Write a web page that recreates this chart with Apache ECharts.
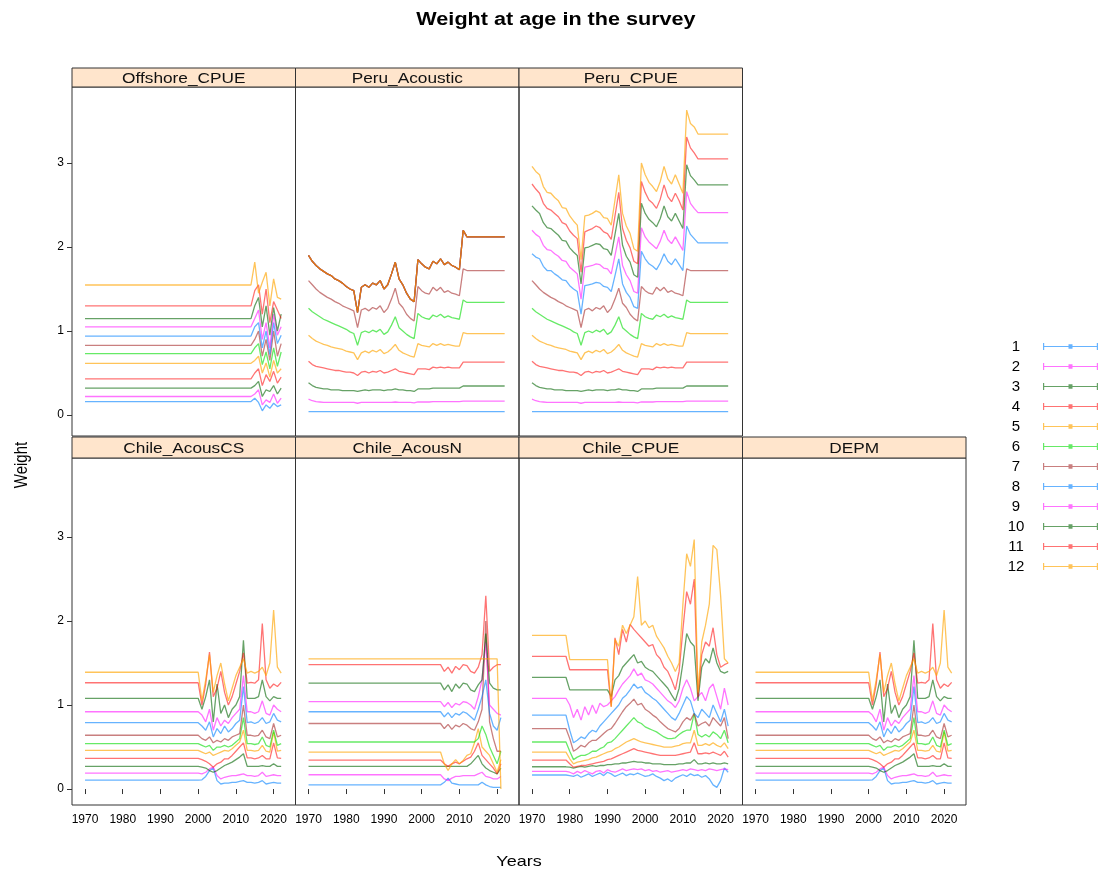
<!DOCTYPE html>
<html>
<head>
<meta charset="utf-8">
<script src="https://cdn.jsdelivr.net/npm/echarts@6/dist/echarts.min.js"></script>
<style>
html,body{margin:0;padding:0;background:#fff;}
#chart{width:1108px;height:878px;}
</style>
</head>
<body>
<div id="chart"></div>
<script>
// ---------- categories / ticks ----------
const panelNames = ['Offshore_CPUE','Peru_Acoustic','Peru_CPUE','Chile_AcousCS','Chile_AcousN','Chile_CPUE','DEPM'];
const ageNames = ['1','2','3','4','5','6','7','8','9','10','11','12'];
const xTickValues = [1970,1980,1990,2000,2010,2020];
const yTickValues = [0,1,2,3];

// ---------- years ----------
const annualYears = [1970,1971,1972,1973,1974,1975,1976,1977,1978,1979,
  1980,1981,1982,1983,1984,1985,1986,1987,1988,1989,
  1990,1991,1992,1993,1994,1995,1996,1997,1998,1999,
  2000,2001,2002,2003,2004,2005,2006,2007,2008,2009,
  2010,2011,2012,2013,2014,2015,2016,2017,2018,2019,
  2020,2021,2022];
const offshoreYears = [1970,2014,2015,2016,2017,2018,2019,2020,2021,2022];
const acousCSYears = [1970,2000,2001,2002,2003,2004,2005,2006,2007,2008,2009,2010,2011,2012,2013,2014,2015,2016,2017,2018,2019,2020,2021,2022];
const acousNYears = [1970,2005,2006,2007,2008,2009,2010,2011,2012,2013,2014,2015,2016,2017,2018,2019,2020,2021];

// ---------- Offshore_CPUE (ages 1..12) ----------
const offshoreCPUE = [
  [0.16,0.16,0.20,0.15,0.05,0.12,0.08,0.14,0.10,0.12],
  [0.22,0.22,0.25,0.30,0.12,0.18,0.15,0.25,0.14,0.20],
  [0.32,0.32,0.35,0.40,0.22,0.30,0.28,0.35,0.25,0.32],
  [0.43,0.43,0.50,0.55,0.35,0.48,0.40,0.52,0.38,0.45],
  [0.615,0.615,0.65,0.70,0.50,0.62,0.45,0.65,0.50,0.55],
  [0.73,0.73,0.80,0.85,0.60,0.75,0.55,0.80,0.58,0.75],
  [0.83,0.83,0.90,1.00,0.70,0.90,0.65,1.00,0.70,0.85],
  [0.94,0.94,1.05,1.10,0.80,1.00,0.72,1.10,0.85,0.95],
  [1.05,1.05,1.15,1.25,0.90,1.10,0.80,1.20,0.95,1.05],
  [1.147,1.147,1.30,1.40,1.05,1.30,0.95,1.28,1.00,1.20],
  [1.30,1.30,1.48,1.55,1.20,1.50,1.10,1.35,1.25,1.15],
  [1.548,1.548,1.82,1.45,1.58,1.70,1.30,1.62,1.40,1.38]
];

// ---------- Peru ages 1..7 (same in Peru_Acoustic and Peru_CPUE) ----------
const peruAge1 = [0.04,0.04,0.04,0.04,0.04,0.04,0.04,0.04,0.04,0.04,
  0.04,0.04,0.04,0.04,0.04,0.04,0.04,0.04,0.04,0.04,
  0.04,0.04,0.04,0.04,0.04,0.04,0.04,0.04,0.04,0.04,
  0.04,0.04,0.04,0.04,0.04,0.04,0.04,0.04,0.04,0.04,
  0.04,0.04,0.04,0.04,0.04,0.04,0.04,0.04,0.04,0.04,
  0.04,0.04,0.04];
const peruAge2 = [0.19,0.17,0.16,0.155,0.15,0.15,0.15,0.15,0.15,0.15,
  0.15,0.15,0.15,0.14,0.15,0.15,0.15,0.15,0.15,0.15,
  0.15,0.15,0.15,0.155,0.15,0.15,0.15,0.15,0.145,0.155,
  0.155,0.155,0.155,0.16,0.16,0.16,0.16,0.16,0.16,0.16,
  0.16,0.165,0.165,0.165,0.165,0.165,0.165,0.165,0.165,0.165,
  0.165,0.165,0.165];
const peruAge3 = [0.385,0.35,0.33,0.32,0.31,0.31,0.30,0.30,0.30,0.29,
  0.29,0.29,0.29,0.28,0.29,0.30,0.29,0.30,0.30,0.30,
  0.29,0.30,0.30,0.31,0.30,0.30,0.29,0.29,0.28,0.31,
  0.31,0.31,0.31,0.32,0.32,0.32,0.32,0.32,0.32,0.32,
  0.32,0.345,0.345,0.345,0.345,0.345,0.345,0.345,0.345,0.345,
  0.345,0.345,0.345];
const peruAge4 = [0.64,0.60,0.58,0.57,0.56,0.55,0.54,0.53,0.53,0.52,
  0.51,0.51,0.50,0.47,0.51,0.52,0.50,0.52,0.51,0.53,
  0.50,0.51,0.53,0.55,0.52,0.51,0.50,0.49,0.48,0.55,
  0.55,0.55,0.54,0.57,0.56,0.57,0.56,0.57,0.56,0.56,
  0.56,0.63,0.63,0.63,0.63,0.63,0.63,0.63,0.63,0.63,
  0.63,0.63,0.63];
const peruAge5 = [0.95,0.91,0.88,0.86,0.84,0.83,0.81,0.80,0.79,0.78,
  0.76,0.75,0.74,0.66,0.74,0.76,0.74,0.77,0.75,0.78,
  0.73,0.75,0.79,0.84,0.77,0.74,0.72,0.70,0.69,0.85,
  0.83,0.82,0.81,0.85,0.83,0.85,0.83,0.84,0.83,0.82,
  0.82,0.98,0.97,0.97,0.97,0.97,0.97,0.97,0.97,0.97,
  0.97,0.97,0.97];
const peruAge6 = [1.27,1.23,1.20,1.17,1.14,1.12,1.10,1.08,1.06,1.04,
  1.02,0.99,0.97,0.83,0.98,1.00,0.98,1.01,0.99,1.02,
  0.96,0.99,1.07,1.17,1.04,1.00,0.96,0.93,0.91,1.21,
  1.17,1.15,1.14,1.19,1.17,1.20,1.16,1.18,1.16,1.15,
  1.14,1.37,1.34,1.34,1.34,1.34,1.34,1.34,1.34,1.34,
  1.34,1.34,1.34];
const peruAge7 = [1.60,1.55,1.50,1.46,1.43,1.40,1.38,1.35,1.33,1.30,
  1.28,1.26,1.24,1.04,1.25,1.27,1.24,1.28,1.26,1.30,
  1.22,1.27,1.38,1.51,1.33,1.28,1.20,1.15,1.12,1.53,
  1.48,1.45,1.44,1.52,1.48,1.52,1.46,1.48,1.45,1.44,
  1.42,1.74,1.72,1.72,1.72,1.72,1.72,1.72,1.72,1.72,
  1.72,1.72,1.72];
// Peru_Acoustic ages 8..12 lie on one line
const peruAcousticUpper = [1.90,1.83,1.78,1.74,1.71,1.68,1.66,1.62,1.60,1.57,
  1.53,1.50,1.48,1.22,1.52,1.55,1.52,1.57,1.55,1.60,
  1.50,1.55,1.68,1.82,1.62,1.55,1.45,1.38,1.35,1.85,
  1.80,1.76,1.74,1.83,1.80,1.86,1.79,1.82,1.78,1.76,
  1.73,2.20,2.12,2.12,2.12,2.12,2.12,2.12,2.12,2.12,
  2.12,2.12,2.12];
// Peru_CPUE ages 8..12
const peruCPUEAge8 = [1.92,1.88,1.86,1.77,1.72,1.72,1.68,1.65,1.61,1.60,
  1.54,1.50,1.47,1.20,1.54,1.55,1.56,1.58,1.57,1.53,
  1.52,1.47,1.66,1.86,1.56,1.46,1.40,1.29,1.27,1.95,
  1.86,1.80,1.77,1.73,1.81,1.92,1.83,1.79,1.86,1.79,
  1.72,2.25,2.15,2.10,2.05,2.05,2.05,2.05,2.05,2.05,
  2.05,2.05,2.05];
const peruCPUEAge9 = [2.20,2.15,2.12,2.02,1.97,1.96,1.92,1.89,1.84,1.83,
  1.76,1.72,1.68,1.38,1.76,1.77,1.78,1.80,1.79,1.75,
  1.74,1.68,1.90,2.12,1.78,1.67,1.60,1.47,1.45,2.23,
  2.12,2.06,2.02,1.98,2.07,2.20,2.09,2.04,2.12,2.04,
  1.96,2.66,2.52,2.46,2.41,2.41,2.41,2.41,2.41,2.41,
  2.41,2.41,2.41];
const peruCPUEAge10 = [2.49,2.44,2.40,2.29,2.23,2.22,2.18,2.14,2.08,2.07,
  1.99,1.94,1.90,1.56,1.99,2.00,2.02,2.04,2.03,1.98,
  1.97,1.90,2.15,2.40,2.02,1.89,1.82,1.67,1.64,2.52,
  2.40,2.33,2.29,2.24,2.34,2.49,2.36,2.31,2.40,2.31,
  2.22,2.98,2.85,2.80,2.74,2.74,2.74,2.74,2.74,2.74,
  2.74,2.74,2.74];
const peruCPUEAge11 = [2.75,2.69,2.64,2.52,2.46,2.44,2.40,2.36,2.29,2.27,
  2.19,2.14,2.10,1.70,2.18,2.20,2.22,2.25,2.23,2.18,
  2.16,2.09,2.37,2.65,2.22,2.08,1.99,1.83,1.80,2.78,
  2.65,2.56,2.52,2.46,2.57,2.74,2.60,2.54,2.64,2.55,
  2.44,3.31,3.18,3.12,3.05,3.05,3.05,3.05,3.05,3.05,
  3.05,3.05,3.05];
const peruCPUEAge12 = [2.96,2.90,2.86,2.72,2.65,2.64,2.59,2.55,2.47,2.46,
  2.37,2.31,2.26,1.85,2.37,2.38,2.40,2.43,2.41,2.35,
  2.34,2.26,2.56,2.86,2.40,2.25,2.16,1.98,1.95,3.00,
  2.86,2.77,2.72,2.66,2.78,2.96,2.81,2.75,2.86,2.75,
  2.64,3.63,3.47,3.43,3.345,3.345,3.345,3.345,3.345,3.345,
  3.345,3.345,3.345];
const peruAcoustic = [peruAge1,peruAge2,peruAge3,peruAge4,peruAge5,peruAge6,peruAge7,
  peruAcousticUpper,peruAcousticUpper,peruAcousticUpper,peruAcousticUpper,peruAcousticUpper];
const peruCPUE = [peruAge1,peruAge2,peruAge3,peruAge4,peruAge5,peruAge6,peruAge7,
  peruCPUEAge8,peruCPUEAge9,peruCPUEAge10,peruCPUEAge11,peruCPUEAge12];

// ---------- Chile_AcousCS (ages 1..12) ----------
const chileAcousCS = [
  [0.107,0.107,0.11,0.15,0.22,0.25,0.10,0.06,0.07,0.07,0.08,0.08,0.09,0.10,0.08,0.08,0.07,0.08,0.10,0.06,0.07,0.08,0.07,0.07],
  [0.19,0.19,0.18,0.20,0.24,0.26,0.16,0.12,0.14,0.15,0.16,0.16,0.17,0.18,0.16,0.16,0.15,0.16,0.20,0.15,0.16,0.17,0.16,0.16],
  [0.27,0.27,0.26,0.25,0.22,0.20,0.22,0.25,0.28,0.30,0.32,0.35,0.38,0.42,0.27,0.27,0.27,0.27,0.28,0.27,0.27,0.30,0.27,0.27],
  [0.365,0.365,0.35,0.33,0.30,0.26,0.30,0.32,0.36,0.36,0.40,0.45,0.50,0.55,0.37,0.37,0.36,0.37,0.40,0.36,0.36,0.55,0.37,0.365],
  [0.46,0.46,0.44,0.42,0.44,0.40,0.42,0.44,0.46,0.45,0.48,0.52,0.56,0.70,0.46,0.46,0.45,0.46,0.52,0.45,0.44,0.68,0.45,0.46],
  [0.54,0.54,0.52,0.50,0.52,0.46,0.50,0.50,0.52,0.50,0.52,0.56,0.60,0.85,0.54,0.54,0.53,0.54,0.62,0.52,0.50,0.70,0.52,0.54],
  [0.64,0.64,0.60,0.58,0.62,0.55,0.58,0.56,0.60,0.58,0.62,0.64,0.66,1.00,0.64,0.64,0.63,0.64,0.70,0.62,0.60,0.78,0.62,0.64],
  [0.79,0.79,0.75,0.70,0.80,0.62,0.72,0.66,0.75,0.68,0.72,0.78,0.82,1.22,0.79,0.80,0.78,0.80,0.85,0.78,0.80,0.90,0.82,0.80],
  [0.92,0.92,0.88,0.80,0.95,0.70,0.85,0.75,0.82,0.78,0.85,0.90,0.95,1.35,0.92,0.92,0.90,0.92,1.05,0.90,0.88,1.00,0.95,0.92],
  [1.08,1.08,0.95,1.10,1.30,0.80,1.25,0.90,1.00,0.85,0.95,1.00,1.10,1.77,1.08,1.08,1.08,1.10,1.30,1.10,1.05,1.10,1.08,1.08],
  [1.265,1.265,1.00,1.25,1.63,1.10,1.20,1.40,1.15,1.00,1.10,1.25,1.40,1.62,1.26,1.27,1.26,1.30,1.97,1.30,1.20,1.25,1.22,1.27],
  [1.39,1.39,1.05,1.30,1.60,1.15,1.35,1.50,1.25,1.05,1.20,1.35,1.45,1.55,1.38,1.40,1.38,1.40,1.45,1.35,1.50,2.13,1.45,1.38]
];
// DEPM shows the same values as Chile_AcousCS
const depm = chileAcousCS;

// ---------- Chile_AcousN (ages 1..12) ----------
const chileAcousN = [
  [0.05,0.05,0.08,0.13,0.07,0.06,0.05,0.05,0.05,0.05,0.05,0.05,0.08,0.05,0.03,0.02,0.02,0.02],
  [0.17,0.17,0.12,0.10,0.13,0.15,0.15,0.16,0.16,0.16,0.16,0.18,0.20,0.15,0.14,0.12,0.12,0.15],
  [0.27,0.27,0.27,0.27,0.27,0.27,0.27,0.27,0.27,0.30,0.35,0.40,0.30,0.25,0.22,0.20,0.18,0.25],
  [0.345,0.345,0.30,0.27,0.30,0.32,0.30,0.33,0.36,0.38,0.45,0.55,0.40,0.35,0.30,0.25,0.18,0.30],
  [0.44,0.44,0.30,0.22,0.30,0.35,0.30,0.34,0.40,0.42,0.55,0.72,0.50,0.45,0.40,0.30,0.20,0.35],
  [0.56,0.56,0.56,0.56,0.56,0.56,0.56,0.56,0.56,0.56,0.56,0.60,0.75,0.65,0.50,0.40,0.30,0.45],
  [0.78,0.78,0.72,0.77,0.71,0.76,0.74,0.78,0.76,0.72,0.70,0.80,0.95,2.00,0.80,0.60,0.45,0.45],
  [0.92,0.92,0.86,0.91,0.85,0.90,0.88,0.92,0.90,0.86,0.82,0.95,1.10,1.30,0.90,0.75,0.70,0.85],
  [1.04,1.04,0.98,1.03,0.97,1.02,1.00,1.04,1.03,1.00,0.95,1.10,1.30,1.75,1.00,0.95,0.90,0.88],
  [1.26,1.26,1.18,1.24,1.16,1.25,1.20,1.26,1.25,1.18,1.16,1.24,1.30,1.85,1.26,1.20,1.18,1.18],
  [1.48,1.48,1.40,1.45,1.38,1.46,1.42,1.48,1.47,1.40,1.38,1.45,1.60,2.30,1.40,1.45,1.48,1.48],
  [1.55,1.55,1.55,1.55,1.55,1.55,1.55,1.55,1.55,1.55,1.55,1.55,1.55,1.55,1.55,1.55,1.55,0.00]
];

// ---------- Chile_CPUE (ages 1..12, annual 1970..2022) ----------
const chileCPUE = [
  [0.167,0.167,0.167,0.167,0.167,0.167,0.167,0.167,0.167,0.167,
   0.16,0.15,0.17,0.14,0.16,0.18,0.15,0.17,0.19,0.16,
   0.20,0.18,0.15,0.17,0.19,0.16,0.18,0.17,0.19,0.17,
   0.15,0.16,0.18,0.15,0.13,0.10,0.12,0.09,0.13,0.15,
   0.17,0.15,0.18,0.16,0.17,0.14,0.16,0.12,0.05,0.02,
   0.10,0.25,0.20],
  [0.21,0.21,0.21,0.21,0.21,0.21,0.21,0.21,0.21,0.21,
   0.20,0.18,0.21,0.19,0.22,0.20,0.18,0.21,0.22,0.19,
   0.23,0.21,0.20,0.22,0.24,0.22,0.23,0.24,0.23,0.24,
   0.22,0.23,0.21,0.22,0.20,0.21,0.22,0.20,0.21,0.22,
   0.23,0.22,0.24,0.23,0.22,0.23,0.22,0.24,0.23,0.22,
   0.23,0.24,0.23],
  [0.265,0.265,0.265,0.265,0.265,0.265,0.265,0.265,0.265,0.265,
   0.26,0.25,0.26,0.27,0.26,0.27,0.28,0.27,0.28,0.28,
   0.29,0.29,0.30,0.30,0.31,0.31,0.32,0.33,0.32,0.32,
   0.31,0.31,0.30,0.30,0.30,0.29,0.29,0.29,0.29,0.30,
   0.30,0.31,0.31,0.35,0.30,0.30,0.31,0.30,0.31,0.30,
   0.30,0.31,0.30],
  [0.345,0.345,0.345,0.345,0.345,0.345,0.345,0.345,0.345,0.345,
   0.30,0.26,0.27,0.28,0.28,0.29,0.30,0.31,0.32,0.33,
   0.35,0.36,0.38,0.40,0.42,0.44,0.46,0.48,0.46,0.45,
   0.44,0.43,0.42,0.41,0.40,0.40,0.40,0.40,0.40,0.41,
   0.42,0.43,0.44,0.55,0.42,0.42,0.43,0.42,0.44,0.42,
   0.40,0.45,0.38],
  [0.44,0.44,0.44,0.44,0.44,0.44,0.44,0.44,0.44,0.44,
   0.36,0.30,0.32,0.33,0.34,0.35,0.37,0.38,0.40,0.42,
   0.44,0.45,0.48,0.50,0.53,0.56,0.58,0.60,0.58,0.56,
   0.55,0.54,0.53,0.52,0.51,0.50,0.50,0.50,0.51,0.52,
   0.54,0.55,0.55,0.70,0.52,0.52,0.54,0.52,0.55,0.52,
   0.50,0.55,0.48],
  [0.56,0.56,0.56,0.56,0.56,0.56,0.56,0.56,0.56,0.56,
   0.45,0.35,0.38,0.40,0.40,0.42,0.45,0.45,0.48,0.50,
   0.55,0.56,0.60,0.65,0.70,0.75,0.80,0.85,0.80,0.78,
   0.74,0.72,0.70,0.68,0.65,0.62,0.60,0.60,0.61,0.65,
   0.68,0.70,0.70,0.90,0.65,0.62,0.65,0.62,0.68,0.65,
   0.60,0.70,0.55],
  [0.72,0.72,0.72,0.72,0.72,0.72,0.72,0.72,0.72,0.72,
   0.60,0.45,0.48,0.52,0.50,0.55,0.58,0.58,0.62,0.66,
   0.70,0.72,0.78,0.85,0.92,0.98,1.02,1.07,1.00,1.02,
   0.95,0.92,0.88,0.85,0.80,0.76,0.72,0.70,0.68,0.72,
   0.80,0.85,0.82,0.90,0.75,0.78,0.80,0.75,0.85,0.80,
   0.75,0.85,0.60],
  [0.88,0.88,0.88,0.88,0.88,0.88,0.88,0.88,0.88,0.88,
   0.70,0.55,0.58,0.62,0.60,0.66,0.70,0.68,0.75,0.80,
   0.85,0.90,0.95,1.00,1.08,1.12,1.18,1.25,1.20,1.22,
   1.15,1.12,1.08,1.05,1.00,0.95,0.90,0.85,0.82,0.90,
   1.00,1.10,1.05,0.90,0.85,0.95,0.90,0.85,1.00,0.90,
   0.80,0.95,0.75],
  [1.08,1.08,1.08,1.08,1.08,1.08,1.08,1.08,1.08,1.08,
   1.00,0.85,0.95,0.82,0.98,0.88,1.00,0.90,1.02,0.98,
   1.00,1.05,1.10,1.18,1.25,1.30,1.35,1.43,1.35,1.38,
   1.30,1.28,1.25,1.20,1.15,1.10,1.05,1.02,0.97,1.05,
   1.20,1.30,1.20,1.05,1.10,1.15,1.05,1.20,1.25,1.10,
   0.95,1.20,1.00],
  [1.33,1.33,1.33,1.33,1.33,1.33,1.33,1.33,1.33,1.33,
   1.18,1.18,1.18,1.18,1.18,1.18,1.18,1.18,1.18,1.18,
   1.18,1.10,1.30,1.35,1.45,1.50,1.55,1.60,1.50,1.52,
   1.45,1.42,1.40,1.35,1.30,1.25,1.20,1.12,1.05,1.20,
   1.50,1.85,1.75,1.70,1.05,1.45,1.55,1.50,1.68,1.50,
   1.40,1.38,1.40],
  [1.58,1.58,1.58,1.58,1.58,1.58,1.58,1.58,1.58,1.58,
   1.42,1.42,1.42,1.42,1.42,1.42,1.42,1.42,1.42,1.42,
   1.42,0.98,1.80,1.60,1.90,1.75,1.96,1.90,1.85,1.80,
   1.75,1.70,1.72,1.60,1.55,1.45,1.40,1.30,1.18,1.40,
   1.90,2.35,2.20,2.50,1.10,1.60,1.75,1.70,1.92,1.60,
   1.45,1.48,1.50],
  [1.83,1.83,1.83,1.83,1.83,1.83,1.83,1.83,1.83,1.83,
   1.54,1.54,1.54,1.54,1.54,1.54,1.54,1.54,1.54,1.54,
   1.54,0.98,1.78,1.70,1.95,1.85,1.95,2.05,2.53,1.95,
   2.00,1.92,1.95,1.82,1.75,1.68,1.58,1.50,1.40,1.50,
   2.20,2.80,2.65,2.97,1.15,1.75,1.95,2.20,2.90,2.85,
   2.30,1.55,1.50]
];

// ---------- styling / layout ----------
const ageColors = [
  'rgba(0,128,255,0.6)','rgba(255,0,255,0.55)','rgba(0,100,0,0.6)','rgba(255,0,0,0.55)',
  'rgba(255,165,0,0.65)','rgba(0,220,0,0.6)','rgba(165,42,42,0.6)',
  'rgba(0,128,255,0.6)','rgba(255,0,255,0.55)','rgba(0,100,0,0.6)','rgba(255,0,0,0.55)','rgba(255,165,0,0.65)'
];
const FONT = '"Liberation Sans", Arial, Helvetica, sans-serif';
const colLeft = 72, colWidth = 223.5;
const rows = [
  {stripTop: 68, stripH: 19, plotTop: 87, plotH: 349, yMin: -0.25, yMax: 3.905},
  {stripTop: 437, stripH: 21, plotTop: 458, plotH: 347, yMin: -0.19, yMax: 3.94}
];
const xMin = 1966.55, xMax = 2025.8;

const panels = [
  {data: offshoreCPUE, years: offshoreYears, row: 0, col: 0},
  {data: peruAcoustic, years: annualYears, row: 0, col: 1},
  {data: peruCPUE, years: annualYears, row: 0, col: 2},
  {data: chileAcousCS, years: acousCSYears, row: 1, col: 0},
  {data: chileAcousN, years: acousNYears, row: 1, col: 1},
  {data: chileCPUE, years: annualYears, row: 1, col: 2},
  {data: depm, years: acousCSYears, row: 1, col: 3}
];

const grids = [], xAxes = [], yAxes = [], series = [], graphics = [];
panels.forEach((p, i) => {
  const r = rows[p.row];
  const left = colLeft + p.col * colWidth;
  grids.push({left: left, top: r.plotTop, width: colWidth, height: r.plotH,
    show: true, borderColor: '#333', borderWidth: 1, backgroundColor: 'transparent'});
  xAxes.push({type: 'value', gridIndex: i, min: xMin, max: xMax,
    axisLine: {show: false}, splitLine: {show: false},
    axisTick: {show: p.row === 1, inside: false, length: 5, customValues: xTickValues, lineStyle: {color: '#333'}},
    axisLabel: {show: p.row === 1, customValues: xTickValues, formatter: v => String(v),
      fontSize: 12, color: '#000', fontFamily: FONT, margin: 9}
  });
  yAxes.push({type: 'value', gridIndex: i, min: r.yMin, max: r.yMax,
    axisLine: {show: false}, splitLine: {show: false},
    axisTick: {show: p.col === 0, inside: false, length: 5, customValues: yTickValues, lineStyle: {color: '#333'}},
    axisLabel: {show: p.col === 0, customValues: yTickValues, formatter: v => String(v),
      fontSize: 12, color: '#000', fontFamily: FONT, margin: 8}
  });
  p.data.forEach((vals, a) => {
    series.push({
      type: 'line', name: ageNames[a], xAxisIndex: i, yAxisIndex: i,
      data: p.years.map((y, k) => [y, vals[k]]),
      symbol: 'none', showSymbol: false, silent: true,
      lineStyle: {width: 1.3, color: ageColors[a]},
      itemStyle: {color: ageColors[a]}
    });
  });
  // strip
  graphics.push({type: 'rect', shape: {x: left, y: r.stripTop, width: colWidth, height: r.stripH},
    style: {fill: '#ffe5cc', stroke: '#333', lineWidth: 1}, z: 10});
  graphics.push({type: 'text', x: left + colWidth / 2, y: r.stripTop + r.stripH / 2 + 1, scaleX: 1.15, z: 11,
    style: {text: panelNames[i], fontSize: 15, fontFamily: FONT, fill: '#111', align: 'center', verticalAlign: 'middle'}});
});

graphics.push({type: 'text', x: 556, y: 20, scaleX: 1.2, z: 11,
  style: {text: 'Weight at age in the survey', fontSize: 18, fontWeight: 'bold', fontFamily: FONT, fill: '#000', align: 'center', verticalAlign: 'middle'}});
graphics.push({type: 'text', x: 519, y: 862, scaleX: 1.2, z: 11,
  style: {text: 'Years', fontSize: 15, fontFamily: FONT, fill: '#000', align: 'center', verticalAlign: 'middle'}});
graphics.push({type: 'text', x: 22, y: 465, rotation: Math.PI / 2, scaleY: 1.2, z: 11,
  style: {text: 'Weight', fontSize: 15, fontFamily: FONT, fill: '#000', align: 'center', verticalAlign: 'middle'}});

const chart = echarts.init(document.getElementById('chart'), null, {renderer: 'canvas'});
chart.setOption({
  animation: false,
  backgroundColor: '#fff',
  grid: grids,
  xAxis: xAxes,
  yAxis: yAxes,
  series: series,
  graphic: graphics,
  legend: {
    data: ageNames, orient: 'vertical', left: 989, top: 334,
    itemGap: 5, itemWidth: 55, itemHeight: 10, align: 'right', selectedMode: false,
    icon: 'path://M0,4.4H55V5.6H0Z M0,1.5H1.2V8.5H0Z M53.8,1.5H55V8.5H53.8Z M25.5,2.8H29.5V7.2H25.5Z',
    formatter: function (n) { return '{a|' + n + '}'; },
    textStyle: {rich: {a: {width: 44, align: 'center', fontSize: 15, lineHeight: 13, fontFamily: FONT, color: '#000'}}}
  }
});
</script>
</body>
</html>
